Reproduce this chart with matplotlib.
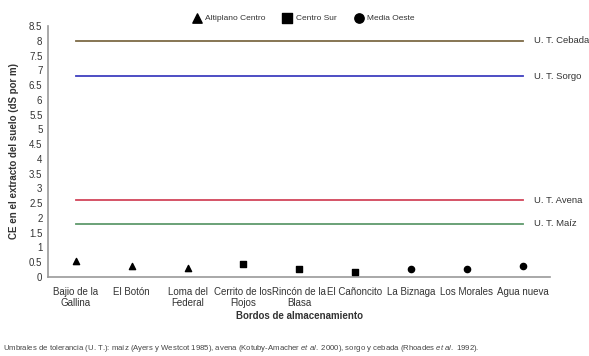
import matplotlib
matplotlib.use("Agg")
import matplotlib.pyplot as plt

plt.rcParams['font.family'] = ['Liberation Sans', 'DejaVu Sans']
plt.rcParams['mathtext.fontset'] = 'custom'
plt.rcParams['mathtext.rm'] = 'Liberation Sans'
plt.rcParams['mathtext.it'] = 'Liberation Sans:italic'

# bordos de almacenamiento and their CE values
bordos = ["Bajio de la\nGallina", "El Botón", "Loma del\nFederal", "Cerrito de los\nFlojos",
          "Rincón de la\nBlasa", "El Cañoncito", "La Biznaga", "Los Morales", "Agua nueva"]
ce_vals = [0.55, 0.38, 0.32, 0.43, 0.27, 0.18, 0.28, 0.26, 0.37]
regiones = ["Altiplano Centro"] * 3 + ["Centro Sur"] * 3 + ["Media Oeste"] * 3

region_names = ["Altiplano Centro", "Centro Sur", "Media Oeste"]
region_markers = ["^", "s", "o"]

# umbrales de tolerancia
umbral_names = ["U. T. Cebada", "U. T. Sorgo", "U. T. Avena", "U. T. Maíz"]
umbral_vals = [8.0, 6.8, 2.6, 1.8]
umbral_colors = ["#7d6a45", "#3f3fbf", "#d2455a", "#5f9a6c"]

fig = plt.figure(figsize=(5.89, 3.56), dpi=100)
ax = fig.add_axes([0.0815, 0.222, 0.853, 0.705])

for name, val, col in zip(umbral_names, umbral_vals, umbral_colors):
    ax.plot([0, len(bordos) - 1], [val, val], color=col, lw=1.3)
    ax.text(len(bordos) - 1 + 0.2, val, name, fontsize=6.8, va="center", ha="left",
            color="#333333", clip_on=False)

handles = []
for name, mk in zip(region_names, region_markers):
    xs = [i for i, r in enumerate(regiones) if r == name]
    ys = [ce_vals[i] for i in xs]
    h = ax.scatter(xs, ys, marker=mk, s=20, color="black", zorder=3, label=name)
    handles.append(h)

ax.set_xlim(-0.5, len(bordos) - 0.5)
ax.set_ylim(0, 8.5)
ax.set_yticks([i * 0.5 for i in range(18)])
ax.set_yticklabels([f"{i * 0.5:g}" for i in range(18)])
ax.set_xticks(range(len(bordos)))
ax.set_xticklabels(bordos)
ax.tick_params(length=0, labelsize=7, colors="#333333", pad=4)
ax.tick_params(axis="x", pad=7)

for s in ["top", "right"]:
    ax.spines[s].set_visible(False)
ax.spines["left"].set_color("#999999")
ax.spines["bottom"].set_color("#999999")
ax.spines["left"].set_linewidth(1.2)
ax.spines["bottom"].set_linewidth(1.2)

ax.set_ylabel("CE en el extracto del suelo (dS por m)", fontsize=7, fontweight="bold",
              color="#333333", labelpad=7)
ax.set_xlabel("Bordos de almacenamiento", fontsize=7, fontweight="bold", color="#333333",
              labelpad=2)

fig.legend(handles=handles, labels=region_names, loc="center", bbox_to_anchor=(0.512, 0.948),
           ncol=3, frameon=False, fontsize=6, handletextpad=0.05, columnspacing=1.6,
           markerscale=1.5, labelcolor="#333333")

fig.text(0.005, 0.022,
         r"Umbrales de tolerancia (U. T.): maíz (Ayers y Westcot 1985), avena (Kotuby-Amacher $\it{et\ al.}$ 2000),"
         r" sorgo y cebada (Rhoades $\it{et\ al.}$ 1992).",
         fontsize=5.6, color="#444444", ha="left", va="center")

fig.savefig("out.png", dpi=100, facecolor="white")
